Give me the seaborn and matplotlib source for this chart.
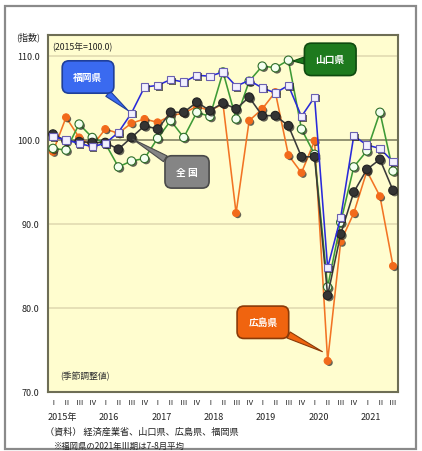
import numpy as np
import matplotlib
matplotlib.use("Agg")
import matplotlib.pyplot as plt
import matplotlib.patheffects as pe
import matplotlib.transforms as mtransforms
from matplotlib.patches import Rectangle
import seaborn as sns

# quarterly index, 2015 Q1 .. 2021 Q3 (2015 = 100.0, seasonally adjusted)
quarters = ["Ⅰ", "Ⅱ", "Ⅲ", "Ⅳ"] * 6 + ["Ⅰ", "Ⅱ", "Ⅲ"]
years = ["2015年", "2016", "2017", "2018", "2019", "2020", "2021"]

fukuoka = [100.4, 100.0, 99.6, 99.2, 99.6, 100.9, 103.2, 106.3, 106.5, 107.2,
           106.9, 107.7, 107.6, 108.1, 106.4, 107.1, 106.2, 105.6, 106.5, 102.8,
           105.1, 84.8, 90.8, 100.5, 99.4, 99.0, 97.4]
yamaguchi = [99.0, 98.8, 101.9, 100.3, 99.6, 96.8, 97.5, 97.8, 100.2, 102.3,
             100.3, 103.3, 102.8, 108.1, 102.5, 107.0, 108.8, 108.6, 109.5, 101.3,
             98.3, 82.5, 90.2, 96.8, 98.7, 103.3, 96.3]
hiroshima = [98.6, 102.7, 100.3, 99.3, 101.3, 100.8, 102.0, 102.5, 102.1, 102.9,
             103.2, 104.0, 103.5, 104.3, 91.3, 102.3, 103.7, 105.7, 98.2, 96.1,
             99.9, 73.7, 87.9, 91.3, 96.3, 93.3, 85.0]
zenkoku = [100.7, 99.9, 99.8, 99.7, 99.7, 98.9, 100.3, 101.7, 101.3, 103.3,
           103.3, 104.5, 103.5, 104.4, 103.7, 105.1, 102.9, 102.9, 101.7, 98.0,
           98.0, 81.5, 88.8, 93.8, 96.5, 97.7, 94.0]

sns.set_theme(style="white")
plt.rcParams["font.family"] = ["Noto Sans CJK JP", "DejaVu Sans"]

W, H = 422, 452
fig = plt.figure(figsize=(W / 100, H / 100), dpi=100)
fig.patch.set_facecolor("white")
ax = fig.add_axes([48 / W, 1 - 393 / H, 350 / W, 357 / H])
ax.set_facecolor("#FFFDCF")

x = np.arange(len(quarters))

# grid lines
for g in [80, 90, 110]:
    ax.axhline(g, color="#E4DDB4", lw=1.3, zorder=0)
ax.axhline(100, color="#77775A", lw=1.1, zorder=1)

series = [
    # values, line colour, marker, face, edge, size
    (hiroshima, "#F27424", "o", "#F26A1B", "#F26A1B", 5.0),
    (yamaguchi, "#3E9A36", "o", "#F4FFF0", "#2F6E2A", 6.0),
    (zenkoku, "#3A3A3A", "o", "#343434", "#222222", 6.2),
    (fukuoka, "#2A2ADA", "s", "#F2F0FF", "#6A60B0", 5.2),
]

shadow = [pe.SimplePatchShadow(offset=(1.2, -1.2), shadow_rgbFace="#222222", alpha=0.7),
          pe.Normal()]

for i, (vals, lc, m, fc, ec, ms) in enumerate(series):
    z = 3 + 2 * i
    sns.lineplot(x=x, y=vals, ax=ax, color=lc, lw=1.15, zorder=z)
    ax.plot(x, vals, ls="none", marker=m, ms=ms, mfc=fc, mec=ec, mew=0.8,
            zorder=z + 1, path_effects=shadow)

ax.set_xlim(-0.38, 26.38)
ax.set_ylim(70, 112.5)

ax.set_xticks(x, quarters, fontsize=5.5)
ax.set_yticks([70, 80, 90, 100, 110], ["70.0", "80.0", "90.0", "100.0", "110.0"], fontsize=6.5)
ax.tick_params(axis="both", length=0, colors="#222222")
ax.tick_params(axis="x", pad=4)
ax.tick_params(axis="y", pad=6)
ax.set_xlabel("")
ax.set_ylabel("")

for s in ax.spines.values():
    s.set_color("#6E6E55")
    s.set_linewidth(1.5)

# year labels under the quarter labels
trans = mtransforms.blended_transform_factory(ax.transData, ax.transAxes)
for k, yr in enumerate(years):
    xpos = 0.7 if k == 0 else 4 * k + 0.3
    ax.text(xpos, -0.068, yr, transform=trans, ha="center", va="center",
            fontsize=6.5, color="#222222")

# callouts
def callout(label, xy, xytext, fc, ec):
    ax.annotate(label, xy=xy, xytext=xytext, ha="center", va="center",
                color="white", fontsize=7, fontweight="bold",
                bbox=dict(boxstyle="round,pad=1.15,rounding_size=0.7", fc=fc, ec=ec, lw=1.2),
                arrowprops=dict(arrowstyle="wedge,tail_width=0.7", fc=fc, ec=ec, lw=0.8,
                                shrinkA=0, shrinkB=0),
                zorder=20)

callout("福岡県", (5.75, 103.5), (2.68, 107.5), "#3A6AF0", "#1F3F9A")
callout("山口県", (18.35, 109.4), (21.2, 109.6), "#1E7A1E", "#0F4A0F")
callout("全 国", (6.1, 100.1), (10.25, 96.2), "#858585", "#4A4A4A")
callout("広島県", (20.6, 74.8), (16.05, 78.3), "#F0640F", "#8A3A08")

# texts inside the plot
ax.text(0.012, 0.968, "(2015年=100.0)", transform=ax.transAxes, ha="left", va="center",
        fontsize=6.3, color="#222222")
ax.text(0.035, 0.045, "(季節調整値)", transform=ax.transAxes, ha="left", va="center",
        fontsize=6.3, color="#333333")

# texts around the plot
fig.text(16 / W, 1 - 37 / H, "(指数)", ha="left", va="center", fontsize=6.5, color="#222222")
fig.text(45 / W, 1 - 432 / H, "（資料） 経済産業省、山口県、広島県、福岡県", ha="left",
         va="center", fontsize=6.6, color="#222222")
fig.text(54 / W, 1 - 446 / H, "※福岡県の2021年Ⅲ期は7-8月平均", ha="left", va="center",
         fontsize=6.0, color="#222222")

# outer frame
fig.patches.append(Rectangle((5 / W, 2 / H), 411 / W, 443 / H, transform=fig.transFigure,
                             fill=False, ec="#8A8A8A", lw=1.6, zorder=0))

fig.savefig("out.png", dpi=100)
